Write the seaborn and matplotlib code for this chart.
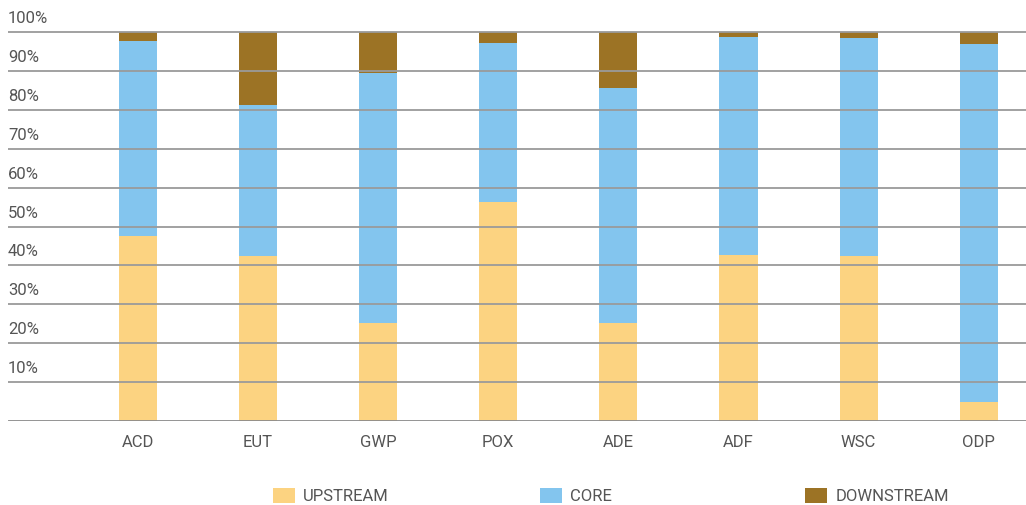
import matplotlib
matplotlib.use("Agg")
import matplotlib.pyplot as plt
from matplotlib.patches import Patch
import seaborn as sns
import pandas as pd
import numpy as np

# Share of each impact category by life-cycle stage (%)
categories = ["ACD", "EUT", "GWP", "POX", "ADE", "ADF", "WSC", "ODP"]
upstream = [47.6, 42.5, 25.2, 56.4, 25.2, 42.7, 42.4, 4.8]
core = [50.2, 38.8, 64.4, 40.8, 60.5, 56.1, 56.1, 92.2]
downstream = [2.2, 18.7, 10.4, 2.8, 14.3, 1.2, 1.5, 3.0]

stage_names = ["UPSTREAM", "CORE", "DOWNSTREAM"]
stage_colors = ["#FCD381", "#83C5EE", "#9C7325"]
y_ticks = [10, 20, 30, 40, 50, 60, 70, 80, 90, 100]

sns.set_theme(style="white")
plt.rcParams["font.family"] = ["Roboto", "DejaVu Sans"]
text_color = "#555555"
text_weight = "normal"

df = pd.DataFrame({
    "category": categories,
    "upstream": upstream,
    "core": core,
    "downstream": downstream,
})
# cumulative tops for overlaid stacking
df["top_up"] = df["upstream"]
df["top_core"] = df["upstream"] + df["core"]
df["top_down"] = df["top_core"] + df["downstream"]

fig = plt.figure(figsize=(10.26, 5.05), dpi=100)
ax = fig.add_axes([0.0078, 0.167, 0.9922, 0.7997])

bar_w = 0.317
for col, color in zip(["top_down", "top_core", "top_up"], stage_colors[::-1]):
    sns.barplot(data=df, x="category", y=col, order=categories, color=color,
                saturation=1, width=bar_w, linewidth=0, ax=ax)

ax.set_xlim(-1.082, 7.394)
ax.set_ylim(0, 104)
ax.set_xlabel("")
ax.set_ylabel("")

# horizontal grid drawn over the bars
ax.set_axisbelow(False)
ax.set_yticks(y_ticks)
ax.yaxis.grid(True, color="#9a9a9a", linewidth=1.3)
ax.xaxis.grid(False)
ax.tick_params(axis="y", length=0, labelleft=False)
ax.axhline(0, color="#8a8a8a", linewidth=2.0, zorder=3)
for s in ax.spines.values():
    s.set_visible(False)

ax.tick_params(axis="x", length=0, pad=10, labelsize=12, labelcolor=text_color)
for lbl in ax.get_xticklabels():
    lbl.set_fontweight(text_weight)

# y labels sit just above their gridlines at the left edge
for v in y_ticks:
    ax.annotate(f"{v}%", xy=(0, v), xycoords=ax.get_yaxis_transform(),
                xytext=(0, 9), textcoords="offset pixels",
                ha="left", va="baseline", fontsize=12, color=text_color,
                fontweight=text_weight, annotation_clip=False)

# legend entries at fixed positions along the bottom
legend_x = [273 / 1026, 540 / 1026, 805 / 1026]
for name, color, lx in zip(stage_names, stage_colors, legend_x):
    leg = fig.legend(handles=[Patch(facecolor=color, edgecolor="none", label=name)],
                     loc="center left", bbox_to_anchor=(lx, 1 - 496 / 505),
                     frameon=False, borderpad=0, borderaxespad=0,
                     handlelength=1.32, handleheight=0.96, handletextpad=0.5,
                     prop={"size": 12, "weight": text_weight})
    for t in leg.get_texts():
        t.set_color(text_color)

fig.savefig("out.png", dpi=100)
